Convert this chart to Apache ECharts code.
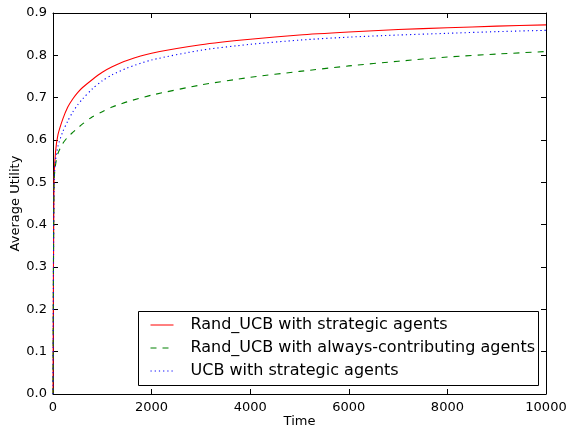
<!DOCTYPE html>
<html>
<head>
<meta charset="utf-8">
<script src="https://cdn.jsdelivr.net/npm/echarts@6/dist/echarts.min.js"></script>
<style>
    html, body { margin: 0; padding: 0; background: #fff; }
    #chart { width: 568px; height: 429px; }
</style>
</head>
<body>
<div id="chart"></div>
<script>
// 时间点
const times = [0, 20, 50, 100, 200, 300, 400, 500, 600, 800, 1000, 1200, 1500, 2000, 3000, 4000, 5000, 6000, 7000, 8000, 9000, 10000];

// 各算法的平均效用
const randUcbStrategic = [0.0, 0.50, 0.57, 0.612, 0.65, 0.678, 0.697, 0.712, 0.724, 0.743, 0.760, 0.773, 0.788, 0.805, 0.825, 0.838, 0.848, 0.855, 0.861, 0.865, 0.869, 0.872];
const randUcbAlways = [0.0, 0.50, 0.54, 0.568, 0.592, 0.607, 0.618, 0.628, 0.638, 0.655, 0.667, 0.678, 0.690, 0.706, 0.730, 0.748, 0.762, 0.775, 0.786, 0.796, 0.803, 0.809];
const ucbStrategic = [0.0, 0.49, 0.55, 0.585, 0.62, 0.645, 0.666, 0.683, 0.697, 0.721, 0.740, 0.754, 0.770, 0.789, 0.812, 0.826, 0.836, 0.843, 0.848, 0.852, 0.856, 0.859];

const seriesNames = [
    'Rand_UCB with strategic agents',
    'Rand_UCB with always-contributing agents',
    'UCB with strategic agents'
];

const font = 'DejaVu Sans';

function pairs(values) {
    return times.map((t, i) => [t, values[i]]);
}

const chart = echarts.init(document.getElementById('chart'));

const baseX = {
    type: 'value',
    min: 0,
    max: 10000,
    interval: 2000,
    splitLine: { show: false },
    axisLine: { show: true, onZero: false, lineStyle: { color: '#000', width: 1 } },
    axisTick: { show: true, inside: true, length: 5, lineStyle: { color: '#000' } }
};
const baseY = {
    type: 'value',
    min: 0,
    max: 0.9,
    interval: 0.1,
    splitLine: { show: false },
    axisLine: { show: true, onZero: false, lineStyle: { color: '#000', width: 1 } },
    axisTick: { show: true, inside: true, length: 5, lineStyle: { color: '#000' } }
};

const option = {
    animation: false,
    backgroundColor: '#fff',
    grid: { left: 53, right: 22, top: 13, bottom: 35, containLabel: false, outerBoundsMode: 'none' },
    xAxis: [
        Object.assign({}, baseX, {
            position: 'bottom',
            name: 'Time',
            nameLocation: 'middle',
            nameGap: 21,
            nameMoveOverlap: false,
            nameTextStyle: { fontFamily: font, fontSize: 13, color: '#000' },
            axisLabel: {
                fontFamily: font, fontSize: 13, color: '#000', margin: 7,
                formatter: v => String(v)
            }
        }),
        Object.assign({}, baseX, {
            position: 'top',
            axisLabel: { show: false }
        })
    ],
    yAxis: [
        Object.assign({}, baseY, {
            position: 'left',
            name: 'Average Utility',
            nameLocation: 'middle',
            nameGap: 31,
            nameMoveOverlap: false,
            nameTextStyle: { fontFamily: font, fontSize: 13, color: '#000' },
            axisLabel: {
                fontFamily: font, fontSize: 13, color: '#000', margin: 6,
                formatter: v => v.toFixed(1)
            }
        }),
        Object.assign({}, baseY, {
            position: 'right',
            axisLabel: { show: false }
        })
    ],
    legend: {
        orient: 'vertical',
        left: 150,
        top: 317,
        itemWidth: 23,
        itemHeight: 14,
        itemGap: 7,
        padding: 0,
        itemStyle: { opacity: 0 },
        lineStyle: { width: 1 },
        textStyle: { fontFamily: font, fontSize: 16, lineHeight: 16, color: '#000', padding: [0, 0, 0, 12] },
        data: seriesNames
    },
    graphic: [{
        type: 'rect',
        shape: { x: 138.5, y: 311.5, width: 400, height: 74 },
        style: { fill: '#fff', stroke: '#000', lineWidth: 1 },
        z: 3
    }],
    series: [
        {
            name: seriesNames[0],
            type: 'line',
            data: pairs(randUcbStrategic),
            smooth: 0.25,
            showSymbol: false,
            symbol: 'none',
            itemStyle: { color: '#ff0000' },
            lineStyle: { color: '#ff0000', width: 1.1 }
        },
        {
            name: seriesNames[1],
            type: 'line',
            data: pairs(randUcbAlways),
            smooth: 0.25,
            showSymbol: false,
            symbol: 'none',
            itemStyle: { color: '#008000' },
            lineStyle: { color: '#008000', width: 1.1, type: [6, 6] }
        },
        {
            name: seriesNames[2],
            type: 'line',
            data: pairs(ucbStrategic),
            smooth: 0.25,
            showSymbol: false,
            symbol: 'none',
            itemStyle: { color: '#0000ff' },
            lineStyle: { color: '#0000ff', width: 1.1, type: [1.2, 3] }
        }
    ]
};

chart.setOption(option);
</script>
</body>
</html>
